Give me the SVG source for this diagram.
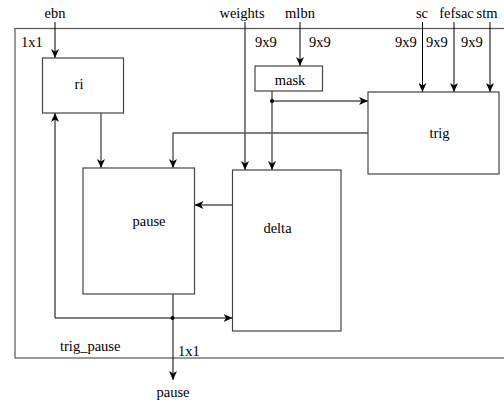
<svg xmlns="http://www.w3.org/2000/svg" width="504" height="403" viewBox="0 0 504 403">
<defs>
<marker id="ah" markerWidth="10" markerHeight="8" refX="9" refY="4" orient="auto" markerUnits="userSpaceOnUse">
<path d="M0,0 L9,4 L0,8 L2.5,4 Z" fill="#000"/>
</marker>
<style>
.t{font-size:14.5px;fill:#000}
.box{fill:#fff;stroke:#444;stroke-width:1.2}
.outer{fill:none;stroke:#555;stroke-width:1.2}
.c{fill:none;stroke:#000;stroke-width:1}
.g{fill:none;stroke:#555;stroke-width:1.4}
.m{text-anchor:middle}
</style>
</defs>
<rect fill="#fff" width="504" height="403"/>
<g font-family="Liberation Serif, Times New Roman, Times, serif" font-size="14.5">
<g id="outer">
<rect class="outer" x="15" y="28.5" width="500" height="329.5"/>
<text x="21" y="47">1x1</text>
<text x="60" y="351">trig_pause</text>
</g>
<g id="connectors">
<path class="c" d="M55,22 V58" marker-end="url(#ah)"/>
<path class="c" d="M245,22 V170" marker-end="url(#ah)"/>
<path class="c" d="M300,22 V66" marker-end="url(#ah)"/>
<path class="c" d="M422.5,22 V92" marker-end="url(#ah)"/>
<path class="c" d="M454,22 V92" marker-end="url(#ah)"/>
<path class="c" d="M490,22 V92" marker-end="url(#ah)"/>
<path class="g" d="M101,113 V168" marker-end="url(#ah)"/>
<path class="g" d="M368,133 H173 V168" marker-end="url(#ah)"/>
<path class="g" d="M272,91 V170" marker-end="url(#ah)"/>
<path class="g" d="M272,101 H368" marker-end="url(#ah)"/>
<circle cx="272" cy="101" r="2" fill="#000"/>
<path class="c" d="M232.5,205 H194.5" marker-end="url(#ah)"/>
<path class="c" d="M173,294 V380" marker-end="url(#ah)"/>
<path class="c" d="M173,318 H55 V113" marker-end="url(#ah)"/>
<path class="c" d="M173,318 H232.5" marker-end="url(#ah)"/>
<circle cx="172.5" cy="318" r="2" fill="#000"/>
</g>
<g id="labels">
<text class="m" x="55" y="18">ebn</text>
<text class="m" x="242" y="18">weights</text>
<text class="m" x="300" y="18">mlbn</text>
<text class="m" x="422" y="18">sc</text>
<text class="m" x="456.5" y="18">fefsac</text>
<text class="m" x="487" y="18">stm</text>
<text x="255" y="47">9x9</text>
<text x="309" y="47">9x9</text>
<text x="395" y="47">9x9</text>
<text x="426" y="47">9x9</text>
<text x="461" y="47">9x9</text>
<text x="178" y="356">1x1</text>
<text class="m" x="173" y="397">pause</text>
</g>
<g id="ri">
<rect class="box" x="42.5" y="58" width="81" height="55"/>
<text class="m" x="79" y="89">ri</text>
</g>
<g id="mask">
<rect class="box" x="255" y="66" width="67.5" height="25"/>
<text class="m" x="290" y="85">mask</text>
</g>
<g id="trig">
<rect class="box" x="368" y="92" width="131" height="82"/>
<text class="m" x="439.5" y="138">trig</text>
</g>
<g id="pause">
<rect class="box" x="83" y="168" width="111.5" height="126"/>
<text class="m" x="149" y="226">pause</text>
</g>
<g id="delta">
<rect class="box" x="232.5" y="170" width="108.5" height="161"/>
<text class="m" x="277.5" y="233">delta</text>
</g>
</g>
</svg>
